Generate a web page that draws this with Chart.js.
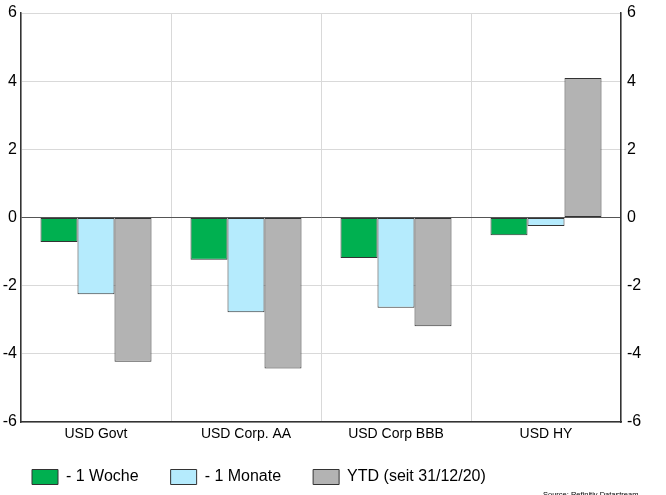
<!DOCTYPE html>
<html>
<head>
<meta charset="utf-8">
<script src="https://cdn.jsdelivr.net/npm/chart.js@4"></script>
<style>
  html, body { margin: 0; padding: 0; background: #fff; }
  #wrap { width: 666px; height: 495px; }
</style>
</head>
<body>
<div id="wrap"><canvas id="chart" width="666" height="495"></canvas></div>
<script>
const categories = ["USD Govt", "USD Corp. AA", "USD Corp BBB", "USD HY"];
const woche = [-0.72, -1.24, -1.19, -0.52];
const monate = [-2.25, -2.78, -2.65, -0.25];
const ytd = [-4.23, -4.43, -3.19, 4.09];
const seriesLabels = ["- 1 Woche", "- 1 Monate", "YTD (seit 31/12/20)"];
const yTicks = [-6, -4, -2, 0, 2, 4, 6];
const sourceText = "Source: Refinitiv Datastream";

const FONT = "'Liberation Sans', Arial, sans-serif";

function gridColor(ctx) {
    return ctx.tick && ctx.tick.value === 0 ? "#555555" : "#d9d9d9";
}

// small source note, bottom right (partly cut off like the original)
const sourcePlugin = {
    id: "sourceNote",
    afterDraw(chart) {
        const c = chart.ctx;
        c.save();
        c.font = "7.5px " + FONT;
        c.fillStyle = "#000";
        c.textBaseline = "top";
        c.textAlign = "left";
        c.fillText(sourceText, 543, 491);
        c.restore();
    }
};

new Chart(document.getElementById("chart").getContext("2d"), {
    type: "bar",
    data: {
        labels: categories,
        datasets: [
            { label: seriesLabels[0], data: woche, backgroundColor: "#00b050", borderColor: "#333333", borderWidth: 1, borderSkipped: false },
            { label: seriesLabels[1], data: monate, backgroundColor: "#b5ebfd", borderColor: "#333333", borderWidth: 1, borderSkipped: false },
            { label: seriesLabels[2], data: ytd, backgroundColor: "#b3b3b3", borderColor: "#333333", borderWidth: 1, borderSkipped: false }
        ]
    },
    plugins: [sourcePlugin],
    options: {
        responsive: false,
        animation: false,
        categoryPercentage: 0.74,
        barPercentage: 1.0,
        layout: { padding: { top: 1, left: 0, right: 0, bottom: 0 } },
        plugins: {
            tooltip: { enabled: false },
            legend: {
                position: "bottom",
                align: "start",
                labels: {
                    font: { family: FONT, size: 16 },
                    color: "#000",
                    boxWidth: 26,
                    boxHeight: 15,
                    padding: 32
                }
            }
        },
        scales: {
            x: {
                // shrink the axis box so the plot reaches further down; labels may overflow below
                afterFit: (s) => {
                    s.height = 15;
                    s._computeLabelArea = () => undefined;
                },
                grid: { color: "#d9d9d9", drawTicks: false, offset: true },
                border: { color: "#333333", width: 1.5 },
                ticks: { font: { family: FONT, size: 14 }, color: "#000", padding: 4 }
            },
            y: {
                position: "left",
                min: -6, max: 6,
                afterBuildTicks: (s) => { s.ticks = yTicks.map(v => ({ value: v })); },
                afterFit: (s) => { s.width = 21; s.paddingTop = 13; },
                grid: { color: gridColor, drawTicks: false },
                border: { color: "#333333", width: 1.5 },
                ticks: { font: { family: FONT, size: 16 }, color: "#000", padding: 4 }
            },
            y2: {
                position: "right",
                min: -6, max: 6,
                afterBuildTicks: (s) => { s.ticks = yTicks.map(v => ({ value: v })); },
                afterFit: (s) => { s.width = 45; s.paddingTop = 13; },
                grid: { display: false, drawTicks: false },
                border: { color: "#333333", width: 1.5 },
                ticks: { font: { family: FONT, size: 16 }, color: "#000", padding: 6 }
            }
        }
    }
});
</script>
</body>
</html>
